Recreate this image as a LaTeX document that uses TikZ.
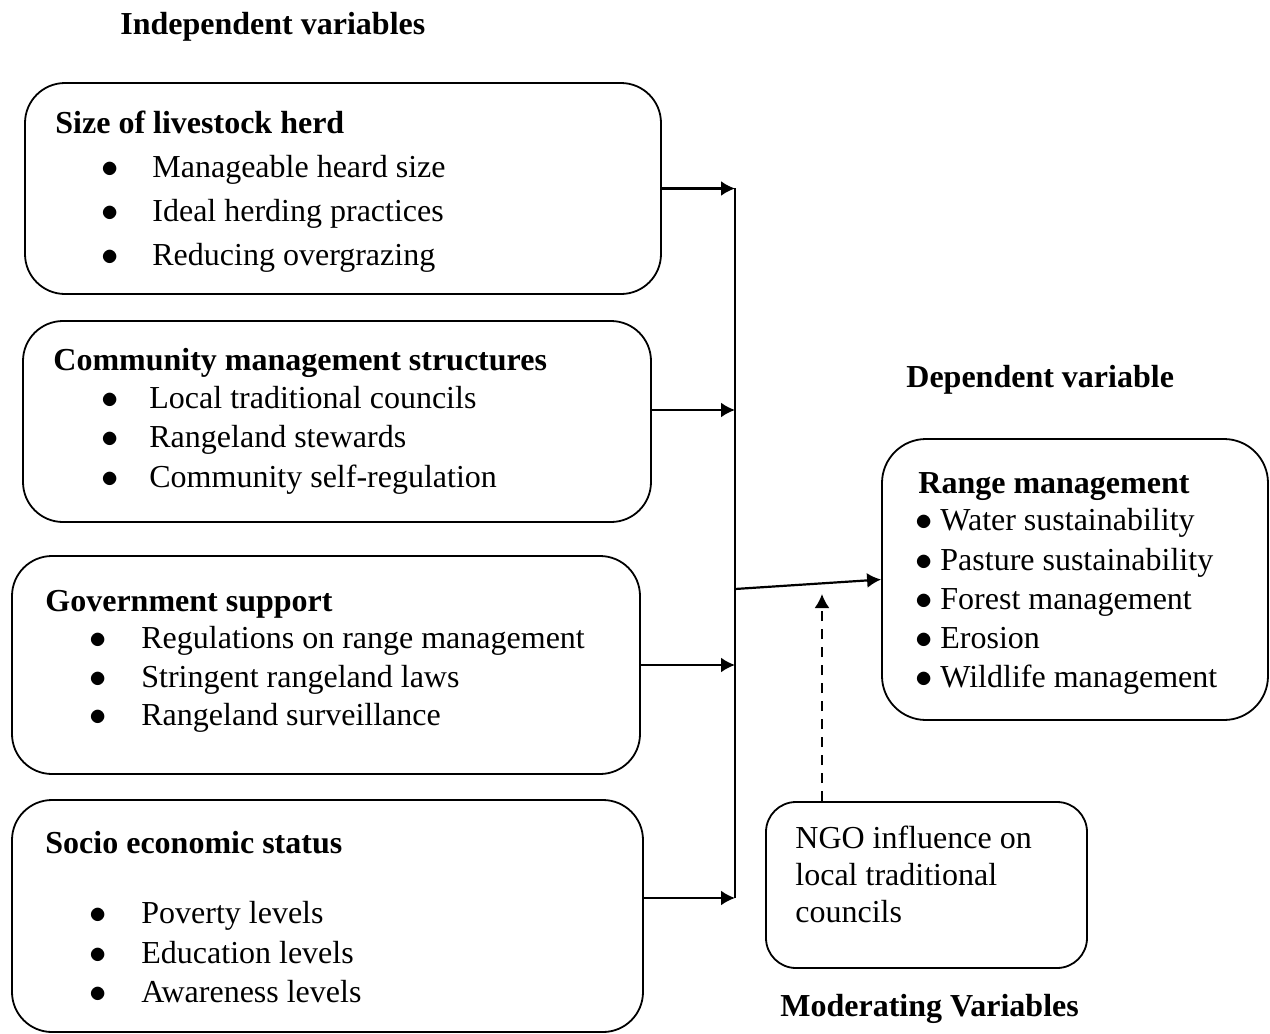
\documentclass[tikz,border=0pt]{standalone}
\usepackage{fontspec}
\setmainfont{Liberation Serif}
\usetikzlibrary{arrows.meta}
\tikzset{
	box/.style={draw, line width=0.9pt, rounded corners=20pt, inner sep=0pt},
	head/.style={anchor=base west, inner sep=0pt, font=\fontsize{16}{19}\selectfont\bfseries},
	txt/.style={anchor=base west, inner sep=0pt, font=\fontsize{16}{19}\selectfont},
	conn/.style={-{Latex[length=7pt,width=7.5pt]}, line width=1.1pt},
}
\newcommand{\itm}[1]{\llap{$\bullet$\hspace{#1}}}
\begin{document}
\begin{tikzpicture}[x=0.5pt, y=-0.5pt]
	\useasboundingbox (0,0) rectangle (1270,1034);
	% headings
	\node[head] (indep) at (120,34) {Independent variables};
	\node[head] (dep) at (906,387) {Dependent variable};
	\node[head] (moder) at (780,1016) {Moderating Variables};
	% boxes
	\node[box, minimum width=318pt, minimum height=105.5pt] (herd) at (343,188.5) {};
	\node[box, minimum width=314pt, minimum height=100.5pt] (comm) at (337,421.5) {};
	\node[box, minimum width=314pt, minimum height=109pt] (gov) at (326,665) {};
	\node[box, minimum width=315.5pt, minimum height=116pt] (socio) at (327.5,916) {};
	\node[box, rounded corners=22pt, minimum width=193pt, minimum height=140.5pt] (range) at (1075,579.5) {};
	\node[box, rounded corners=15pt, minimum width=160.5pt, minimum height=83pt] (ngo) at (926.5,885) {};
	% size of livestock herd
	\node[head] (herdT) at (55,133) {Size of livestock herd};
	\node[txt] (herd1) at (152,177) {\itm{17pt}Manageable heard size};
	\node[txt] (herd2) at (152,221) {\itm{17pt}Ideal herding practices};
	\node[txt] (herd3) at (152,265) {\itm{17pt}Reducing overgrazing};
	% community management structures
	\node[head] (commT) at (53,370) {Community management structures};
	\node[txt] (comm1) at (149,408) {\itm{15.5pt}Local traditional councils};
	\node[txt] (comm2) at (149,447) {\itm{15.5pt}Rangeland stewards};
	\node[txt] (comm3) at (149,487) {\itm{15.5pt}Community self-regulation};
	% government support
	\node[head] (govT) at (45,611) {Government support};
	\node[txt] (gov1) at (141,648) {\itm{17.5pt}Regulations on range management};
	\node[txt] (gov2) at (141,687) {\itm{17.5pt}Stringent rangeland laws};
	\node[txt] (gov3) at (141,725) {\itm{17.5pt}Rangeland surveillance};
	% socio economic status
	\node[head] (socioT) at (45,853) {Socio economic status};
	\node[txt] (socio1) at (141,923) {\itm{17.5pt}Poverty levels};
	\node[txt] (socio2) at (141,963) {\itm{17.5pt}Education levels};
	\node[txt] (socio3) at (141,1002) {\itm{17.5pt}Awareness levels};
	% range management
	\node[head] (rangeT) at (918,493) {Range management};
	\node[txt] (range1) at (940,530) {\itm{4pt}Water sustainability};
	\node[txt] (range2) at (940,570) {\itm{4pt}Pasture sustainability};
	\node[txt] (range3) at (940,609) {\itm{4pt}Forest management};
	\node[txt] (range4) at (940,648) {\itm{4pt}Erosion};
	\node[txt] (range5) at (940,687) {\itm{4pt}Wildlife management};
	% ngo
	\node[txt] (ngo1) at (795,848) {NGO influence on};
	\node[txt] (ngo2) at (795,885) {local traditional};
	\node[txt] (ngo3) at (795,922) {councils};
	% connectors
	\coordinate (top) at (735,188);
	\coordinate (bot) at (735,898);
	\coordinate (join) at (735,589);
	\coordinate (tip) at (822,594);
	\draw[line width=1.1pt] (top) -- (bot);
	\draw[conn] (herd.east) -- (herd.east -| top);
	\draw[conn] ([yshift=5.75pt]comm.east) -- ([yshift=5.75pt]comm.east -| top);
	\draw[conn] (gov.east) -- (gov.east -| top);
	\draw[conn] ([yshift=9pt]socio.east) -- (bot);
	\draw[conn] (join) -- (range.west);
	\draw[conn, dash pattern=on 5pt off 4pt] ([xshift=-52.25pt]ngo.north) -- (tip);
\end{tikzpicture}
\end{document}
